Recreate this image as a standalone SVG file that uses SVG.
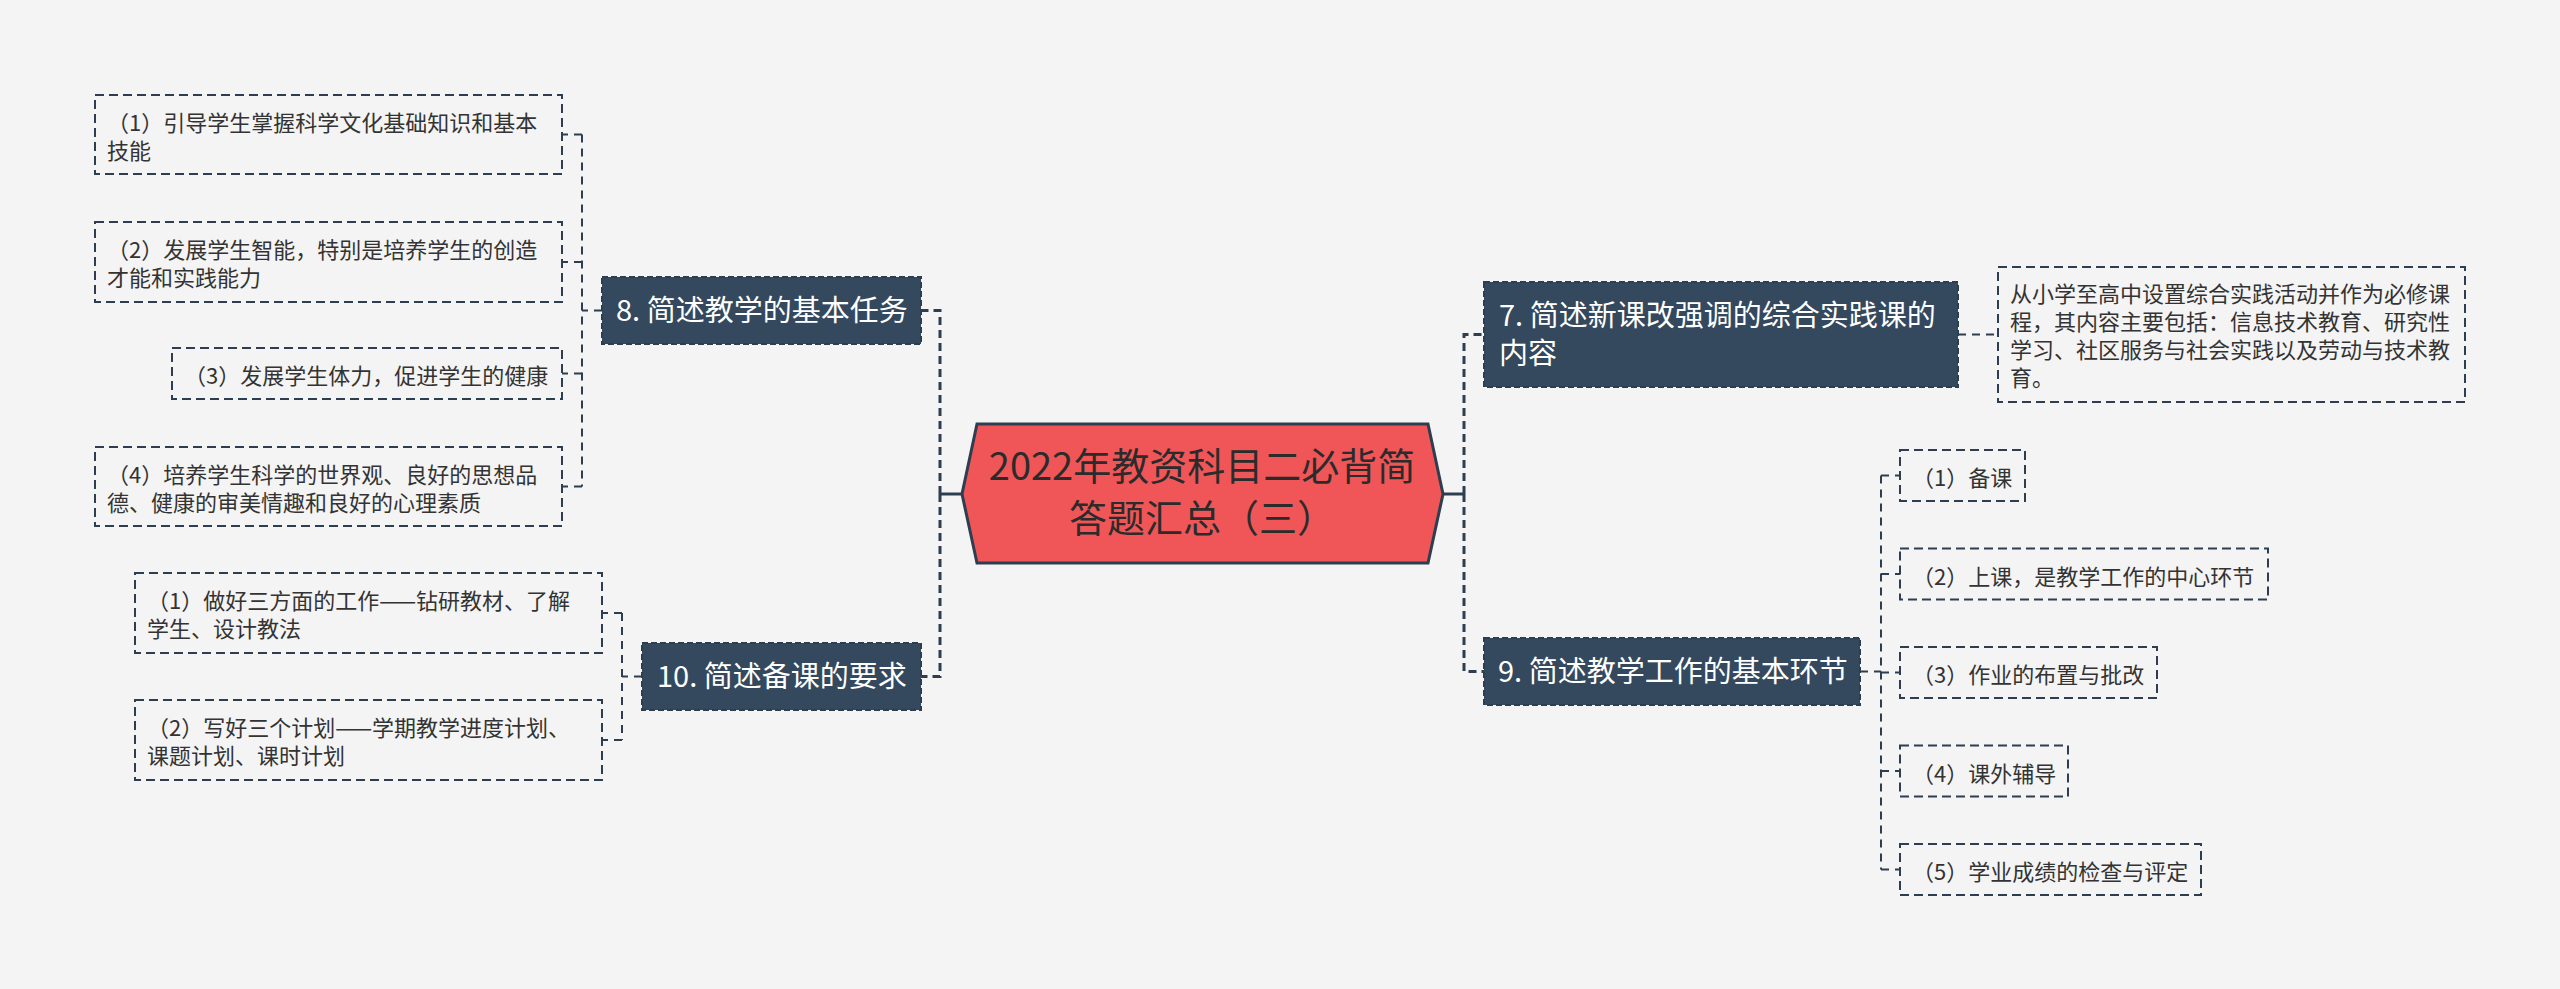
<svg xmlns="http://www.w3.org/2000/svg" width="2560" height="989" viewBox="0 0 2560 989">
<style>
.bg{fill:#f4f4f4}
.leaf{fill:none;stroke:#2c3e50;stroke-width:2;stroke-dasharray:9 5}
.node{fill:#34495e;stroke:#2c3e50;stroke-width:2;stroke-dasharray:6 3}
.lt{font-family:"Noto Sans CJK SC","Liberation Sans",sans-serif;font-size:22px;fill:#333}
.nt{font-family:"Noto Sans CJK SC","Liberation Sans",sans-serif;font-size:29px;fill:#ffffff}
.ct{font-family:"Noto Sans CJK SC","Liberation Sans",sans-serif;font-size:38px;fill:#2b2b2b;text-anchor:middle}
.trunk{fill:none;stroke:#2c3e50;stroke-width:3;stroke-dasharray:8 5}
.sub{fill:none;stroke:#2c3e50;stroke-width:2;stroke-dasharray:8 6}
.solid{fill:none;stroke:#2c3e50;stroke-width:3}
</style>
<rect class="bg" x="0" y="0" width="2560" height="989"/>
<g id="connectors">
<path class="solid" d="M962 494 H940"/>
<path class="solid" d="M1443 494 H1464"/>
<path class="trunk" d="M940 494 V310.5 H921"/>
<path class="trunk" d="M940 494 V676.5 H921"/>
<path class="trunk" d="M1464 494 V334.5 H1484"/>
<path class="trunk" d="M1464 494 V671.5 H1484"/>
<path class="sub" d="M602 310.5 H582"/>
<path class="sub" d="M582 134.5 V486.5"/>
<path class="sub" d="M582 134.5 H562 M582 262 H562 M582 373.5 H562 M582 486.5 H562"/>
<path class="sub" d="M642 676.5 H622"/>
<path class="sub" d="M622 613 V740"/>
<path class="sub" d="M622 613 H602 M622 740 H602"/>
<path class="sub" d="M1958 334.5 H1998"/>
<path class="sub" d="M1860 671.5 H1881"/>
<path class="sub" d="M1881 475.5 V869.5"/>
<path class="sub" d="M1881 475.5 H1900 M1881 574 H1900 M1881 672.5 H1900 M1881 771 H1900 M1881 869.5 H1900"/>
</g>
<g id="root">
<polygon points="962,494 977,424 1428,424 1443,494 1428,563 977,563" fill="#f05658" stroke="#2c3e50" stroke-width="3"/>
<text class="ct" x="1202" y="480">2022年教资科目二必背简</text>
<text class="ct" x="1202" y="532">答题汇总（三）</text>
</g>
<g id="node8">
<rect class="node" x="602" y="277" width="319" height="67"/>
<text class="nt" x="616" y="321">8. 简述教学的基本任务</text>
</g>
<g id="node8-1">
<rect class="leaf" x="95" y="95" width="467" height="79"/>
<text class="lt" x="107" y="131">（1）引导学生掌握科学文化基础知识和基本</text>
<text class="lt" x="107" y="159">技能</text>
</g>
<g id="node8-2">
<rect class="leaf" x="95" y="222" width="467" height="80"/>
<text class="lt" x="107" y="258">（2）发展学生智能，特别是培养学生的创造</text>
<text class="lt" x="107" y="286">才能和实践能力</text>
</g>
<g id="node8-3">
<rect class="leaf" x="172" y="348" width="390" height="51"/>
<text class="lt" x="184" y="384">（3）发展学生体力，促进学生的健康</text>
</g>
<g id="node8-4">
<rect class="leaf" x="95" y="447" width="467" height="79"/>
<text class="lt" x="107" y="483">（4）培养学生科学的世界观、良好的思想品</text>
<text class="lt" x="107" y="511">德、健康的审美情趣和良好的心理素质</text>
</g>
<g id="node10">
<rect class="node" x="642" y="643" width="279" height="67"/>
<text class="nt" x="657" y="687">10. 简述备课的要求</text>
</g>
<g id="node10-1">
<rect class="leaf" x="135" y="573" width="467" height="80"/>
<text class="lt" x="147" y="609">（1）做好三方面的工作——钻研教材、了解</text>
<text class="lt" x="147" y="637">学生、设计教法</text>
</g>
<g id="node10-2">
<rect class="leaf" x="135" y="700" width="467" height="80"/>
<text class="lt" x="147" y="736">（2）写好三个计划——学期教学进度计划、</text>
<text class="lt" x="147" y="764">课题计划、课时计划</text>
</g>
<g id="node7">
<rect class="node" x="1484" y="282" width="474" height="105"/>
<text class="nt" x="1499" y="326">7. 简述新课改强调的综合实践课的</text>
<text class="nt" x="1499" y="364">内容</text>
</g>
<g id="node7-1">
<rect class="leaf" x="1998" y="267" width="467" height="135"/>
<text class="lt" x="2010" y="302">从小学至高中设置综合实践活动并作为必修课</text>
<text class="lt" x="2010" y="330">程，其内容主要包括：信息技术教育、研究性</text>
<text class="lt" x="2010" y="358">学习、社区服务与社会实践以及劳动与技术教</text>
<text class="lt" x="2010" y="386">育。</text>
</g>
<g id="node9">
<rect class="node" x="1484" y="638" width="376" height="67"/>
<text class="nt" x="1498" y="682">9. 简述教学工作的基本环节</text>
</g>
<g id="node9-1">
<rect class="leaf" x="1900" y="450" width="125" height="51"/>
<text class="lt" x="1912" y="486">（1）备课</text>
</g>
<g id="node9-2">
<rect class="leaf" x="1900" y="548.5" width="368" height="51"/>
<text class="lt" x="1912" y="584.5">（2）上课，是教学工作的中心环节</text>
</g>
<g id="node9-3">
<rect class="leaf" x="1900" y="647" width="257" height="51"/>
<text class="lt" x="1912" y="683">（3）作业的布置与批改</text>
</g>
<g id="node9-4">
<rect class="leaf" x="1900" y="745.5" width="168" height="51"/>
<text class="lt" x="1912" y="781.5">（4）课外辅导</text>
</g>
<g id="node9-5">
<rect class="leaf" x="1900" y="844" width="301" height="51"/>
<text class="lt" x="1912" y="880">（5）学业成绩的检查与评定</text>
</g>
</svg>
